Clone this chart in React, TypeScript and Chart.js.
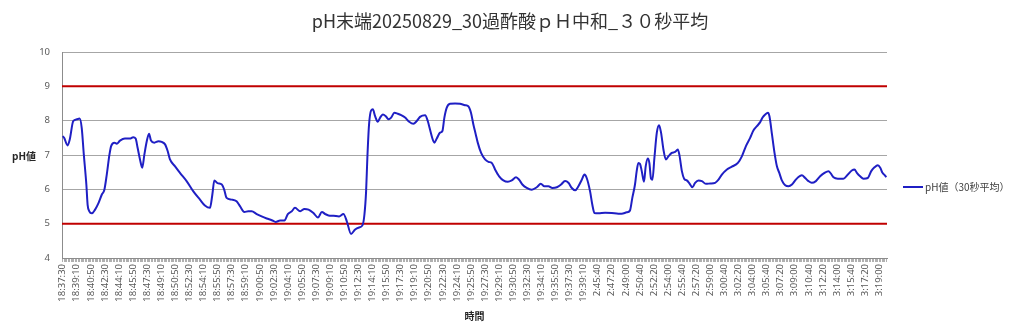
import React, { useEffect, useRef } from "react";
import { Chart, registerables } from "chart.js";

Chart.register(...registerables);

const TITLE = "pH末端20250829_30過酢酸ｐＨ中和_３０秒平均";
const Y_TITLE = "pH値";
const X_TITLE = "時間";
const SERIES_NAME = "pH値（30秒平均）";

// tick labels, one every 10 samples
const tickLabels = [
  "18:37:30", "18:39:10", "18:40:50", "18:42:30", "18:44:10", "18:45:50", "18:47:30", "18:49:10", "18:50:50", "18:52:30",
  "18:54:10", "18:55:50", "18:57:30", "18:59:10", "19:00:50", "19:02:30", "19:04:10", "19:05:50", "19:07:30", "19:09:10",
  "19:10:50", "19:12:30", "19:14:10", "19:15:50", "19:17:30", "19:19:10", "19:20:50", "19:22:30", "19:24:10", "19:25:50",
  "19:27:30", "19:29:10", "19:30:50", "19:32:30", "19:34:10", "19:35:50", "19:37:30", "19:39:10", "2:45:40", "2:47:20",
  "2:49:00", "2:50:40", "2:52:20", "2:54:00", "2:55:40", "2:57:20", "2:59:00", "3:00:40", "3:02:20", "3:04:00",
  "3:05:40", "3:07:20", "3:09:00", "3:10:40", "3:12:20", "3:14:00", "3:15:40", "3:17:20", "3:19:00",
];

// sample index (10 s per sample) and 30 s averaged pH value
const sampleIndex = [
  0, 1, 3.5, 5, 7.5, 10, 12, 13.5, 15, 16.8, 17.7, 18.9, 20.7, 23, 25.4, 27.8, 29.6, 31.3, 33.2, 34.4,
  36.7, 38.4, 40.7, 44.2, 47.8, 50.1, 51.8, 53.2, 54.9, 56.5, 58, 59.7, 61.3, 62.7, 65.1, 68, 70.3, 72.7, 74.6, 76.2,
  79.8, 83.3, 88, 92.8, 97.5, 101, 104.6, 106.3, 107.7, 110, 113, 114.7, 116.4, 120, 123.5, 125.9, 129, 131.8, 134.2, 137.8,
  141.3, 144.9, 148.5, 151.3, 154.4, 157.5, 159.9, 162.7, 165, 168.7, 171.7, 174.6, 178.1, 181.3, 184.1, 186.5, 188.8, 192.4, 196.3, 199.4,
  201.8, 204.8, 207.7, 210.5, 212.9, 214.3, 215.5, 216.4, 217.6, 219.1, 220.3, 221.9, 223.8, 225.5, 227.4, 229.5, 231.4, 233.3, 235.6, 238,
  240.4, 243.2, 246.1, 249.1, 251.5, 253.8, 257.4, 259.3, 260.9, 262.6, 264, 265.7, 268, 269.7, 271.1, 272.8, 275.1, 278.7, 282.2, 285.8,
  288.1, 290, 291.7, 293.4, 294.8, 297.2, 300, 302.4, 304.8, 307.1, 310, 313, 316.2, 319, 322, 324.2, 326.5, 329.6, 333.2, 336.7,
  339.6, 342.1, 345, 347.8, 351, 354, 356.8, 359.2, 361.6, 364, 366.3, 368.7, 370.6, 372.2, 374.6, 376.2, 377.7, 380.5, 385.3, 390,
  394.7, 397, 400.6, 402.9, 404.6, 406.5, 407.7, 408.9, 410.1, 411.3, 412.9, 414.1, 415.6, 416.7, 417.9, 418.9, 420.3, 422, 423.6, 425,
  426.7, 428.4, 430.2, 432.6, 435, 436.9, 438, 439.8, 441.4, 443.3, 444.9, 447.3, 449.2, 451.6, 454, 456.8, 459.9, 463.4, 465.8, 468.2,
  471.8, 475.3, 479.6, 482.4, 485.3, 488.3, 490.7, 493.1, 495.3, 497.1, 499, 500.9, 502, 503.8, 505.6, 507.3, 509, 510.8, 513.2, 515.5,
  518, 520.3, 522.6, 525, 527.4, 529.7, 532.1, 535, 538, 541.1, 543.9, 545.8, 547.5, 550.6, 554.5, 557.7, 560.5, 562.4, 564.1, 566.4,
  568.8, 571.9, 574.3, 576.6, 579, 580.7, 582.3, 584.2, 585,
];

const phValues = [
  7.55, 7.5, 7.28, 7.45, 7.99, 8.04, 8.06, 7.79, 7.01, 6.14, 5.55, 5.36, 5.3, 5.41, 5.6, 5.85, 5.99, 6.43, 7.01, 7.26,
  7.36, 7.33, 7.42, 7.48, 7.48, 7.52, 7.48, 7.21, 6.87, 6.63, 7.01, 7.4, 7.62, 7.42, 7.36, 7.4, 7.38, 7.31, 7.11, 6.87,
  6.67, 6.48, 6.24, 5.94, 5.7, 5.53, 5.46, 5.85, 6.26, 6.18, 6.14, 5.99, 5.75, 5.7, 5.65, 5.51, 5.34, 5.36, 5.36, 5.28,
  5.21, 5.15, 5.1, 5.05, 5.09, 5.09, 5.28, 5.36, 5.46, 5.36, 5.43, 5.41, 5.31, 5.18, 5.34, 5.28, 5.24, 5.23, 5.21, 5.28,
  5.07, 4.7, 4.83, 4.89, 4.95, 5.26, 5.94, 6.92, 7.89, 8.3, 8.33, 8.13, 7.97, 8.09, 8.18, 8.13, 8.04, 8.09, 8.23, 8.2,
  8.16, 8.09, 7.97, 7.91, 7.99, 8.11, 8.16, 7.99, 7.74, 7.48, 7.36, 7.48, 7.65, 7.7, 8.09, 8.38, 8.49, 8.5, 8.49, 8.45,
  8.42, 8.23, 7.89, 7.6, 7.36, 7.06, 6.87, 6.8, 6.77, 6.58, 6.38, 6.26, 6.22, 6.26, 6.35, 6.28, 6.14, 6.04, 5.99, 6.06,
  6.16, 6.09, 6.09, 6.04, 6.06, 6.14, 6.24, 6.19, 6.04, 5.97, 6.09, 6.28, 6.43, 6.33, 5.94, 5.55, 5.31, 5.3, 5.32, 5.31,
  5.29, 5.29, 5.33, 5.38, 5.75, 6.14, 6.53, 6.77, 6.74, 6.53, 6.22, 6.67, 6.9, 6.77, 6.31, 6.28, 6.92, 7.65, 7.87, 7.65,
  7.16, 6.87, 6.96, 7.06, 7.09, 7.16, 7.01, 6.53, 6.31, 6.26, 6.19, 6.06, 6.19, 6.26, 6.24, 6.16, 6.17, 6.19, 6.28, 6.43,
  6.58, 6.66, 6.77, 6.96, 7.26, 7.5, 7.72, 7.84, 7.95, 8.09, 8.18, 8.23, 8.13, 7.6, 7.06, 6.67, 6.48, 6.26, 6.12, 6.09,
  6.14, 6.26, 6.36, 6.41, 6.33, 6.24, 6.19, 6.24, 6.38, 6.48, 6.53, 6.45, 6.35, 6.31, 6.31, 6.43, 6.55, 6.58, 6.48, 6.38,
  6.31, 6.33, 6.53, 6.64, 6.7, 6.63, 6.48, 6.4, 6.35,
];

// control limits (red lines)
const upperLimit = [9, 9];
const lowerLimit = [5, 5];

const X_MIN = -0.5;
const X_MAX = 585.5;
const SAMPLES_PER_LABEL = 10;

const BLUE = "#1f1fc4";
const RED = "#c00000";
const FONT = '"Noto Sans", "Noto Sans CJK JP", sans-serif';
const CJK = '"Noto Sans CJK JP", "Noto Sans", sans-serif';

const textPlugin = {
  id: "extraText",
  afterDraw(chart: any) {
    const ctx = chart.ctx;
    const area = chart.chartArea;
    ctx.save();
    ctx.textBaseline = "middle";
    ctx.textAlign = "center";
    ctx.fillStyle = "#333333";
    ctx.font = "18px " + CJK;
    ctx.fillText(TITLE, 510, 21);

    ctx.fillStyle = "#262626";
    ctx.font = "bold 10px " + CJK;
    ctx.fillText(Y_TITLE, 24, (area.top + area.bottom) / 2 + 1);
    ctx.fillText(X_TITLE, (area.left + area.right) / 2, 316);

    // legend
    const ly = 187;
    ctx.strokeStyle = BLUE;
    ctx.lineWidth = 2;
    ctx.beginPath();
    ctx.moveTo(903, ly);
    ctx.lineTo(923, ly);
    ctx.stroke();
    ctx.fillStyle = "#404040";
    ctx.font = "10px " + CJK;
    ctx.textAlign = "left";
    ctx.fillText(SERIES_NAME, 925, ly);
    ctx.restore();
  },
};

export default function App() {
  const ref = useRef<HTMLCanvasElement | null>(null);

  useEffect(() => {
    if (!ref.current) return;
    const mainData = sampleIndex.map((x, i) => ({ x, y: phValues[i] }));
    const limitX = [X_MIN, X_MAX];
    const chart = new Chart(ref.current, {
      type: "line",
      data: {
        datasets: [
          {
            label: SERIES_NAME,
            data: mainData,
            borderColor: BLUE,
            borderWidth: 2,
            pointRadius: 0,
            tension: 0.3,
            cubicInterpolationMode: "monotone",
            order: 0,
          },
          {
            label: "upper",
            data: limitX.map((x, i) => ({ x, y: upperLimit[i] })),
            borderColor: RED,
            borderWidth: 2,
            pointRadius: 0,
            order: 1,
          },
          {
            label: "lower",
            data: limitX.map((x, i) => ({ x, y: lowerLimit[i] })),
            borderColor: RED,
            borderWidth: 2,
            pointRadius: 0,
            order: 1,
          },
        ],
      },
      options: {
        animation: false,
        responsive: false,
        layout: { padding: { top: 52, right: 137, left: 0, bottom: 0 } },
        plugins: {
          legend: { display: false },
          title: { display: false },
          tooltip: { enabled: false },
        },
        scales: {
          x: {
            type: "linear",
            min: X_MIN,
            max: X_MAX,
            afterFit(scale: any) {
              scale.height = 77;
            },
            afterBuildTicks(scale: any) {
              const t: any[] = [];
              for (let v = 0; v <= Math.floor(X_MAX); v++) t.push({ value: v });
              scale.ticks = t;
            },
            ticks: {
              autoSkip: false,
              minRotation: 90,
              maxRotation: 90,
              padding: 2,
              color: "#595959",
              font: { family: FONT, size: 9.5 },
              callback(value: any) {
                const v = Number(value);
                if (v % SAMPLES_PER_LABEL !== 0) return "";
                return tickLabels[v / SAMPLES_PER_LABEL] ?? "";
              },
            },
            grid: {
              drawOnChartArea: false,
              drawTicks: true,
              tickLength: 4,
              color: "#b0b0b0",
            },
            border: { display: true, color: "#8c8c8c" },
          },
          y: {
            min: 4,
            max: 10,
            afterFit(scale: any) {
              scale.width = 62;
            },
            ticks: {
              stepSize: 1,
              padding: 12,
              color: "#595959",
              font: { family: FONT, size: 9.5 },
            },
            grid: {
              color: "#a6a6a6",
              drawTicks: false,
            },
            border: { display: true, color: "#8c8c8c" },
          },
        },
      },
      plugins: [textPlugin],
    } as any);
    return () => chart.destroy();
  }, []);

  return (
    <div style={{ position: "fixed", left: 0, top: 0, width: 1024, height: 335, background: "#fff" }}>
      <canvas ref={ref} width={1024} height={335} style={{ display: "block" }} />
    </div>
  );
}
